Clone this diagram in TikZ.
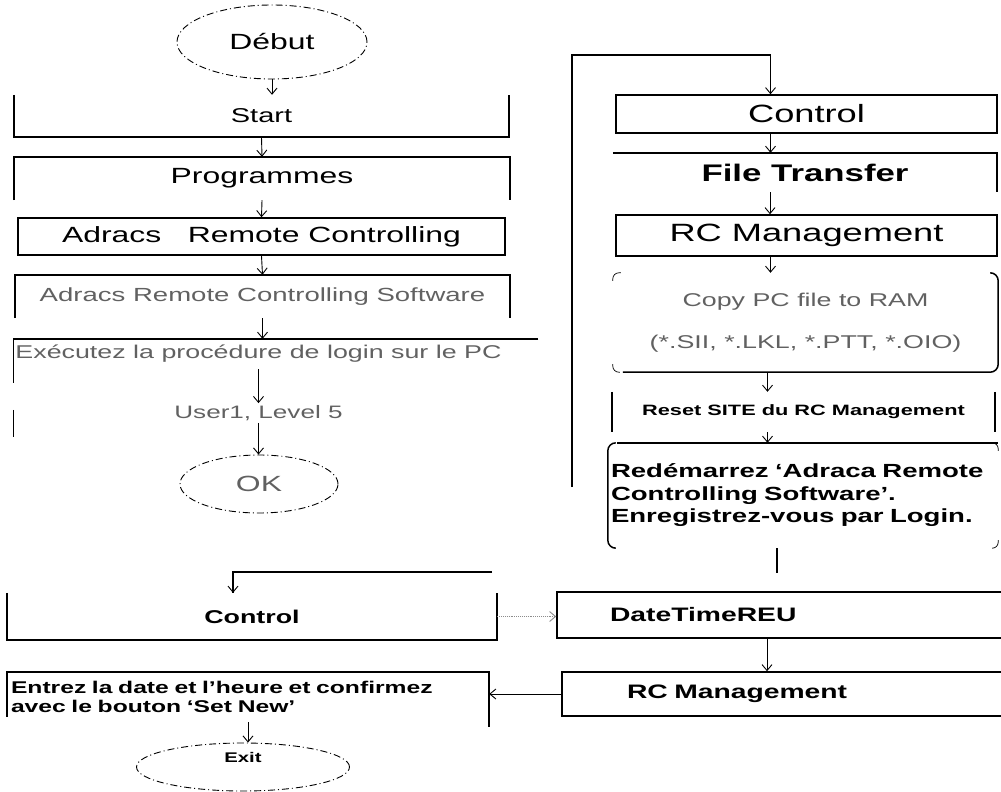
\documentclass[tikz,border=0pt]{standalone}
\usepackage{fontspec}
\setmainfont{Liberation Sans}[FakeStretch=1.45]
\usetikzlibrary{shapes.geometric, arrows.meta, positioning}

\newcommand{\fsz}[2]{\fontsize{#1}{#2}\selectfont}
\colorlet{faded}{black!62}

\tikzset{
  box/.style={rectangle, inner sep=2pt},
  boxline/.style={line width=1.5pt},
  term/.style={ellipse, draw, line width=0.9pt, dash pattern=on 7pt off 3pt on 1pt off 3pt},
  arr/.style={->, line width=0.9pt},
  tick/.style={line width=0.7pt, rounded corners=6pt}
}

\begin{document}
\begin{tikzpicture}[x=1pt, y=-1pt, >={Straight Barb[length=6pt, width=10pt]}]
    \useasboundingbox (0,0) rectangle (1001,792);

    % left column
    \node[term, minimum width=190pt, minimum height=74pt, font=\fsz{22}{26}] (debut) at (272,42) {Début};
    \node[box, minimum width=495pt, minimum height=42pt, font=\fsz{20}{24}] (start) at (261.5,116) {Start};
    \node[box, minimum width=496pt, minimum height=43pt, font=\fsz{22}{26}] (prog) at (262,178.5) {Programmes};
    \node[box, draw, boxline, minimum width=487pt, minimum height=37pt, font=\fsz{22}{26}] (arc) at (261.5,236.5) {Adracs\ \ \ Remote Controlling};
    \node[box, minimum width=495pt, minimum height=43pt, text=faded, font=\fsz{19}{23}] (arcs) at (262.5,296.5) {Adracs Remote Controlling Software};
    \node[box, minimum width=487pt, minimum height=30pt, text=faded, font=\fsz{18.5}{22}] (exec) at (258.5,354) {Exécutez la procédure de login sur le PC};
    \node[box, text=faded, font=\fsz{18}{22}] (user) at (258.5,413) {User1, Level 5};
    \node[term, minimum width=158pt, minimum height=58pt, text=faded, font=\fsz{22}{26}] (ok) at (259,484) {OK};

    \draw[boxline] (start.north west) -- (start.south west) -- (start.south east) -- (start.north east);
    \draw[boxline] (prog.south west) -- (prog.north west) -- (prog.north east) -- (prog.south east);
    \draw[boxline] (arcs.south west) -- (arcs.north west) -- (arcs.north east) -- (arcs.south east);
    \draw[boxline] (exec.north west) ++(525,0) -- (exec.north west) -- ++(0,44)
                   (exec.north west) ++(0,71) -- ++(0,27);

    \draw[arr] (debut.south) -- (debut.south |- start.north);
    \draw[arr] (start.south) -- (prog.north);
    \draw[arr] (prog.south) -- (arc.north);
    \draw[arr] (arc.south) -- (arcs.north);
    \draw[arr] (arcs.south) -- (arcs.south |- exec.north);
    \draw[arr] (exec.south) -- (user.north);
    \draw[arr] (user.south) -- (user.south |- ok.north);

    % right column
    \node[box, draw, boxline, minimum width=381pt, minimum height=38pt, font=\fsz{25}{30}] (ctrlr) at (806.5,114) {Control};
    \node[box, minimum width=384pt, minimum height=39pt, font=\fsz{24}{28}\bfseries] (ftr) at (805,172.5) {File Transfer};
    \node[box, draw, boxline, minimum width=381pt, minimum height=41pt, font=\fsz{25}{30}] (rcm) at (806.5,235.5) {RC Management};
    \node[box, minimum width=385pt, minimum height=99pt, align=center, text=faded, font=\fsz{18.5}{42}] (copy) at (805.5,322.5) {Copy PC file to RAM\\(*.SII, *.LKL, *.PTT, *.OIO)};
    \node[box, minimum width=383pt, minimum height=40pt, font=\fsz{15}{18}\bfseries] (reset) at (803.5,412) {Reset SITE du RC Management};
    \node[box, minimum width=390pt, minimum height=105pt, text width=384pt, inner sep=3pt, align=left, font=\fsz{19}{22.5}\bfseries] (redem) at (803,495.5) {Redémarrez ‘Adraca Remote\\Controlling Software’.\\Enregistrez-vous par Login.};

    \draw[boxline] (ftr.north west) -- (ftr.north east) -- (ftr.south east);
    \draw[boxline, rounded corners=8pt] ([xshift=10pt]copy.south west) -- (copy.south east) -- (copy.north east) -- ([xshift=-8pt]copy.north east);
    \draw[tick] ([yshift=-8pt]copy.north west) -- (copy.north west) -- ([xshift=8pt]copy.north west);
    \draw[tick] ([yshift=8pt]copy.south west) -- (copy.south west) -- ([xshift=7pt]copy.south west);
    \draw[boxline] (reset.north west) -- (reset.south west) (reset.north east) -- (reset.south east);
    \draw[boxline] ([xshift=9pt]redem.north west) -- (redem.north east);
    \draw[boxline, rounded corners=8pt] ([xshift=8pt]redem.north west) -- (redem.north west) -- (redem.south west) -- ([xshift=8pt]redem.south west);
    \draw[tick] ([xshift=-6pt]redem.north east) -- (redem.north east) -- ([yshift=-8pt]redem.north east);
    \draw[tick] ([yshift=8pt]redem.south east) -- (redem.south east) -- ([xshift=-6pt]redem.south east);

    \coordinate (lpbot) at (572,487);
    \coordinate (lptop) at (572,55);
    \coordinate (rdend) at (777,573);
    \draw[boxline] (lpbot) -- (lptop) -| ([xshift=-36pt]ctrlr.north);
    \draw[arr] ([xshift=-36pt]ctrlr.north) ++(0,-12) -- ([xshift=-36pt]ctrlr.north);
    \draw[arr] ([xshift=-36pt]ctrlr.south) -- ([xshift=-36pt]ctrlr.south |- ftr.north);
    \draw[arr] ([xshift=-35pt]ftr.south) -- ([xshift=-35pt]ftr.south |- rcm.north);
    \draw[arr] ([xshift=-36pt]rcm.south) -- ([xshift=-36pt]rcm.south |- copy.north);
    \draw[arr] ([xshift=-38pt]copy.south) -- ([xshift=-38pt]copy.south |- reset.north);
    \draw[arr] ([xshift=-36pt]reset.south) -- ([xshift=-36pt]reset.south |- redem.north);
    \draw[boxline] (rdend |- redem.south) -- (rdend);

    % bottom part
    \node[box, minimum width=490pt, minimum height=47pt, font=\fsz{18.5}{22}\bfseries] (ctrlb) at (252,616.5) {Control};
    \node[box, minimum width=482pt, minimum height=50pt, text width=474pt, inner sep=4pt, align=left, font=\fsz{17}{19}\bfseries] (entrez) at (248,697) {Entrez la date et l'heure et confirmez\\avec le bouton ‘Set New’};
    \node[term, minimum width=213pt, minimum height=48pt, label={[font=\fsz{14}{17}\bfseries, yshift=10pt]center:Exit}] (exit) at (243,767) {};
    \node[box, draw, boxline, minimum width=446pt, minimum height=46pt, text width=340pt, inner xsep=53pt, align=left, font=\fsz{19.5}{23}\bfseries] (dtr) at (780,615) {DateTimeREU};
    \node[box, draw, boxline, minimum width=441pt, minimum height=44pt, text width=311pt, inner xsep=65pt, align=left, font=\fsz{19.5}{23}\bfseries] (rcmb) at (782.5,694) {RC Management};

    \draw[boxline] (ctrlb.north west) -- (ctrlb.south west) -- (ctrlb.south east) -- (ctrlb.north east);
    \draw[boxline] (entrez.north west) ++(0,45) -- (entrez.north west) -- (entrez.north east) -- ++(0,55);

    \coordinate (cjoin) at (492,572);
    \draw[boxline] (cjoin) -| ([xshift=-19pt]ctrlb.north);
    \draw[arr] ([xshift=-19pt]ctrlb.north) ++(0,-12) -- ([xshift=-19pt]ctrlb.north);
    \draw[arr, densely dotted, black!45] (ctrlb.east) -- (ctrlb.east -| dtr.west);
    \draw[arr] ([xshift=-13pt]dtr.south) -- ([xshift=-13pt]dtr.south |- rcmb.north);
    \draw[arr] (rcmb.west) -- (rcmb.west -| entrez.east);
    \draw[arr] (entrez.south) -- (entrez.south |- exit.north);
\end{tikzpicture}
\end{document}
